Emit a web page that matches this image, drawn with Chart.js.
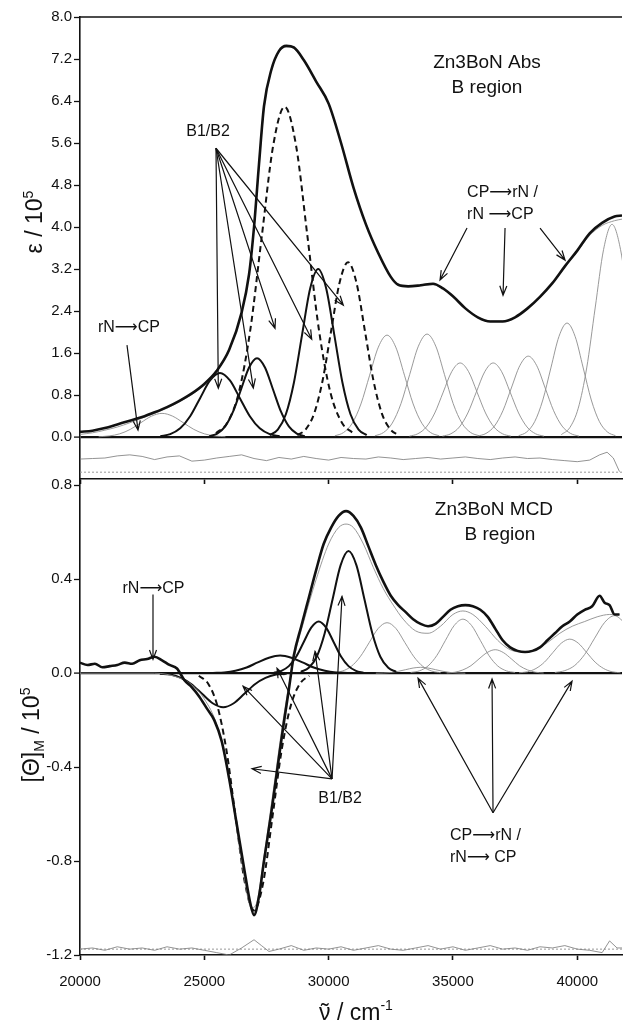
<!DOCTYPE html>
<html>
<head>
<meta charset="utf-8">
<script src="https://cdn.jsdelivr.net/npm/chart.js@4.4.1/dist/chart.umd.min.js"></script>
<style>
html,body{margin:0;padding:0;background:#fff;}
#wrap{position:relative;width:626px;height:1026px;}
canvas{position:absolute;left:0;}
#absChart{top:0;}
#mcdChart{top:470px;}
</style>
</head>
<body>
<div id="wrap">
<canvas id="absChart" width="626" height="490"></canvas>
<canvas id="mcdChart" width="626" height="556"></canvas>
</div>
<script>
// axis ticks
const xTicks = [20000, 25000, 30000, 35000, 40000]
const absTicks = [0, 0.8, 1.6, 2.4, 3.2, 4.0, 4.8, 5.6, 6.4, 7.2, 8.0]
const mcdTicks = [-1.2, -0.8, -0.4, 0, 0.4, 0.8]

// ---- absorption (eps / 1e5) ----
const absMeasured = [[20000,0.10],[20500,0.12],[21000,0.17],[21500,0.24],[22000,0.31],[22500,0.38],[23000,0.47],[23500,0.57],[24000,0.69],[24500,0.83],[25000,1.01],[25500,1.26],[26000,1.66],[26500,2.37],[26800,3.10],[27000,4.00],[27200,5.20],[27400,6.30],[27700,7.00],[28000,7.35],[28300,7.45],[28600,7.42],[29000,7.18],[29500,6.77],[30000,6.35],[30500,5.60],[31000,4.75],[31500,4.05],[32000,3.50],[32500,3.05],[32800,2.90],[33200,2.87],[33700,2.89],[34200,2.92],[34600,2.83],[35000,2.68],[35500,2.45],[36000,2.28],[36500,2.20],[37000,2.20],[37500,2.28],[38000,2.45],[38500,2.67],[39000,2.93],[39500,3.25],[40000,3.55],[40500,3.88],[41000,4.08],[41500,4.20],[41800,4.22]]
const absFit = [[20000,0.05],[20500,0.08],[21000,0.13],[21500,0.19],[22000,0.27],[22500,0.36],[23000,0.45],[23500,0.55],[24000,0.67],[24500,0.81],[25000,0.99],[25500,1.25],[26000,1.66],[26500,2.38],[26800,3.10],[27000,4.00],[27200,5.15],[27400,6.25],[27700,6.98],[28000,7.33],[28300,7.43],[28600,7.40],[29000,7.17],[29500,6.76],[30000,6.33],[30500,5.60],[31000,4.75],[31500,4.06],[32000,3.50],[32500,3.05],[32800,2.91],[33200,2.88],[33700,2.88],[34200,2.90],[34600,2.82],[35000,2.67],[35500,2.45],[36000,2.28],[36500,2.21],[37000,2.21],[37500,2.28],[38000,2.44],[38500,2.66],[39000,2.92],[39500,3.23],[40000,3.53],[40500,3.84],[41000,4.03],[41500,4.12],[41800,4.15]]

// fitted bands, abs
const absRnCp = [[20750,0.005],[21175,0.020],[21600,0.061],[22025,0.146],[22450,0.273],[22875,0.397],[23300,0.45],[23725,0.397],[24150,0.273],[24575,0.146],[25000,0.061],[25425,0.020],[25850,0.005]]
const absB1 = [[23230,0.014],[23630,0.054],[24030,0.165],[24430,0.396],[24830,0.740],[25230,1.077],[25630,1.22],[26030,1.077],[26430,0.740],[26830,0.396],[27230,0.165],[27630,0.054],[28030,0.014]]
const absB2 = [[25200,0.017],[25520,0.066],[25840,0.203],[26160,0.487],[26480,0.910],[26800,1.324],[27120,1.50],[27440,1.324],[27760,0.910],[28080,0.487],[28400,0.203],[28720,0.066],[29040,0.017]]
const absB3 = [[25470,0.070],[25930,0.276],[26390,0.851],[26850,2.042],[27310,3.815],[27770,5.551],[28230,6.29],[28690,5.551],[29150,3.815],[29610,2.042],[30070,0.851],[30530,0.276],[30990,0.070]]
const absB4 = [[27630,0.036],[27955,0.140],[28280,0.433],[28605,1.039],[28930,1.941],[29255,2.824],[29580,3.20],[29905,2.824],[30230,1.941],[30555,1.039],[30880,0.433],[31205,0.140],[31530,0.036]]
const absB5 = [[28740,0.037],[29080,0.146],[29420,0.451],[29760,1.081],[30100,2.020],[30440,2.939],[30780,3.33],[31120,2.939],[31460,2.020],[31800,1.081],[32140,0.451],[32480,0.146],[32820,0.037]]
const absCt1 = [[30250,0.022],[30600,0.085],[30950,0.262],[31300,0.630],[31650,1.177],[32000,1.712],[32350,1.94],[32700,1.712],[33050,1.177],[33400,0.630],[33750,0.262],[34100,0.085],[34450,0.022]]
const absCt2 = [[31860,0.022],[32210,0.086],[32560,0.265],[32910,0.636],[33260,1.189],[33610,1.730],[33960,1.96],[34310,1.730],[34660,1.189],[35010,0.636],[35360,0.265],[35710,0.086],[36060,0.022]]
const absCt3 = [[33250,0.016],[33590,0.062],[33930,0.191],[34270,0.458],[34610,0.855],[34950,1.244],[35290,1.41],[35630,1.244],[35970,0.855],[36310,0.458],[36650,0.191],[36990,0.062],[37330,0.016]]
const absCt4 = [[34580,0.016],[34920,0.062],[35260,0.191],[35600,0.458],[35940,0.855],[36280,1.244],[36620,1.41],[36960,1.244],[37300,0.855],[37640,0.458],[37980,0.191],[38320,0.062],[38660,0.016]]
const absCt5 = [[35990,0.017],[36330,0.068],[36670,0.208],[37010,0.500],[37350,0.934],[37690,1.359],[38030,1.54],[38370,1.359],[38710,0.934],[39050,0.500],[39390,0.208],[39730,0.068],[40070,0.017]]
const absCt6 = [[37640,0.024],[37965,0.095],[38290,0.294],[38615,0.705],[38940,1.316],[39265,1.915],[39590,2.17],[39915,1.915],[40240,1.316],[40565,0.705],[40890,0.294],[41215,0.095],[41540,0.024]]
const absCt7 = [[39360,0.045],[39700,0.178],[40040,0.548],[40380,1.315],[40720,2.456],[41060,3.574],[41400,4.05],[41740,3.574],[42080,2.456]]
const absResid = [[20000,-0.42],[20500,-0.41],[21000,-0.40],[21500,-0.36],[22000,-0.34],[22500,-0.37],[23000,-0.43],[23500,-0.38],[24000,-0.36],[24500,-0.46],[25000,-0.44],[25500,-0.40],[26000,-0.37],[26500,-0.34],[27000,-0.41],[27500,-0.45],[28000,-0.39],[28500,-0.42],[29000,-0.37],[29500,-0.41],[30000,-0.44],[30500,-0.39],[31000,-0.41],[31500,-0.42],[32000,-0.38],[32500,-0.40],[33000,-0.43],[33500,-0.41],[34000,-0.39],[34500,-0.42],[35000,-0.40],[35500,-0.38],[36000,-0.41],[36500,-0.43],[37000,-0.40],[37500,-0.38],[38000,-0.41],[38500,-0.40],[39000,-0.43],[39500,-0.45],[40000,-0.47],[40500,-0.44],[40900,-0.34],[41200,-0.29],[41450,-0.40],[41700,-0.66]]
const absResidZero = [[20000,-0.67],[41800,-0.67]]

// ---- MCD ([Theta]M / 1e5) ----
const mcdMeasured = [[20000,0.045],[20300,0.035],[20600,0.040],[20900,0.025],[21200,0.030],[21500,0.035],[21800,0.045],[22100,0.040],[22400,0.055],[22700,0.060],[23000,0.070],[23300,0.055],[23600,0.035],[23900,0.020],[24200,-0.030],[24500,-0.060],[24800,-0.100],[25100,-0.150],[25400,-0.200],[25700,-0.290],[26000,-0.450],[26300,-0.640],[26600,-0.830],[26850,-0.980],[27000,-1.030],[27200,-0.950],[27400,-0.800],[27700,-0.590],[28000,-0.360],[28200,-0.210],[28400,-0.070],[28600,0.075],[28900,0.200],[29200,0.320],[29500,0.440],[29800,0.550],[30100,0.620],[30400,0.670],[30700,0.690],[31000,0.670],[31300,0.620],[31600,0.540],[31900,0.460],[32200,0.390],[32500,0.330],[32800,0.290],[33100,0.260],[33400,0.230],[33700,0.210],[34000,0.200],[34300,0.210],[34600,0.240],[34900,0.270],[35200,0.285],[35500,0.290],[35800,0.285],[36100,0.270],[36400,0.240],[36700,0.190],[37000,0.140],[37300,0.110],[37600,0.095],[37900,0.090],[38200,0.095],[38500,0.110],[38800,0.140],[39100,0.170],[39400,0.200],[39700,0.220],[40000,0.250],[40300,0.270],[40600,0.285],[40900,0.330],[41100,0.300],[41300,0.290],[41500,0.250],[41700,0.250]]
const mcdFit = [[20000,0.000],[23000,0.000],[24000,-0.020],[24500,-0.050],[25000,-0.110],[25500,-0.220],[26000,-0.450],[26500,-0.800],[26900,-1.000],[27100,-0.980],[27400,-0.780],[27800,-0.480],[28200,-0.180],[28600,0.060],[29000,0.220],[29500,0.400],[30000,0.550],[30400,0.620],[30700,0.635],[31000,0.620],[31400,0.550],[31800,0.450],[32200,0.360],[32600,0.290],[33000,0.230],[33500,0.180],[34000,0.170],[34500,0.200],[35000,0.250],[35400,0.265],[35800,0.250],[36300,0.200],[36800,0.140],[37300,0.100],[37800,0.090],[38300,0.100],[38800,0.130],[39300,0.170],[39800,0.200],[40300,0.220],[40800,0.240],[41300,0.250],[41700,0.250]]

// fitted bands, mcd
const mcdNegBig = [[24780,-0.011],[25150,-0.044],[25520,-0.137],[25890,-0.328],[26260,-0.613],[26630,-0.891],[27000,-1.01],[27370,-0.891],[27740,-0.613],[28110,-0.328],[28480,-0.137],[28850,-0.044],[29220,-0.011]]
const mcdNegBroad = [[23210,-0.002],[23635,-0.006],[24060,-0.020],[24485,-0.047],[24910,-0.088],[25335,-0.128],[25760,-0.145],[26185,-0.128],[26610,-0.088],[27035,-0.047],[27460,-0.020],[27885,-0.006],[28310,-0.002]]
const mcdPosBroad = [[25350,0.001],[25800,0.003],[26250,0.010],[26700,0.024],[27150,0.046],[27600,0.066],[28050,0.075],[28500,0.066],[28950,0.046],[29400,0.024],[29850,0.010],[30300,0.003],[30750,0.001]]
const mcdPosMid = [[27800,0.002],[28100,0.010],[28400,0.030],[28700,0.071],[29000,0.133],[29300,0.194],[29600,0.22],[29900,0.194],[30200,0.133],[30500,0.071],[30800,0.030],[31100,0.010],[31400,0.002]]
const mcdPosBig = [[28880,0.006],[29200,0.023],[29520,0.070],[29840,0.169],[30160,0.315],[30480,0.459],[30800,0.52],[31120,0.459],[31440,0.315],[31760,0.169],[32080,0.070],[32400,0.023],[32720,0.006]]
const mcdCt1 = [[30190,0.002],[30550,0.009],[30910,0.029],[31270,0.070],[31630,0.130],[31990,0.190],[32350,0.215],[32710,0.190],[33070,0.130],[33430,0.070],[33790,0.029],[34150,0.009],[34510,0.002]]
const mcdCt2 = [[31900,0.000],[32200,0.001],[32500,0.003],[32800,0.008],[33100,0.015],[33400,0.022],[33700,0.025],[34000,0.022],[34300,0.015],[34600,0.008],[34900,0.003],[35200,0.001],[35500,0.000]]
const mcdCt3 = [[33300,0.003],[33650,0.010],[34000,0.031],[34350,0.075],[34700,0.140],[35050,0.203],[35400,0.23],[35750,0.203],[36100,0.140],[36450,0.075],[36800,0.031],[37150,0.010],[37500,0.003]]
const mcdCt4 = [[34750,0.001],[35075,0.004],[35400,0.014],[35725,0.032],[36050,0.061],[36375,0.088],[36700,0.10],[37025,0.088],[37350,0.061],[37675,0.032],[38000,0.014],[38325,0.004],[38650,0.001]]
const mcdCt5 = [[37660,0.002],[38000,0.006],[38340,0.020],[38680,0.047],[39020,0.088],[39360,0.128],[39700,0.145],[40040,0.128],[40380,0.088],[40720,0.047],[41060,0.020],[41400,0.006],[41740,0.002]]
const mcdCt6 = [[39100,0.003],[39500,0.011],[39900,0.033],[40300,0.080],[40700,0.149],[41100,0.216],[41500,0.245],[41900,0.216]]
const mcdResid = [[20000,-1.175],[20500,-1.170],[21000,-1.180],[21500,-1.165],[22000,-1.175],[22500,-1.170],[23000,-1.180],[23500,-1.165],[24000,-1.175],[24500,-1.170],[25000,-1.180],[25500,-1.190],[26000,-1.200],[26500,-1.170],[27000,-1.135],[27300,-1.160],[27600,-1.185],[28000,-1.175],[28500,-1.160],[29000,-1.180],[29500,-1.170],[30000,-1.175],[30500,-1.165],[31000,-1.180],[31500,-1.170],[32000,-1.160],[32500,-1.175],[33000,-1.180],[33500,-1.170],[34000,-1.160],[34500,-1.175],[35000,-1.165],[35500,-1.180],[36000,-1.170],[36500,-1.160],[37000,-1.175],[37500,-1.170],[38000,-1.180],[38500,-1.165],[39000,-1.170],[39500,-1.160],[40000,-1.175],[40500,-1.180],[41000,-1.190],[41300,-1.140],[41600,-1.170],[41800,-1.170]]
const mcdResidZero = [[20000,-1.175],[41800,-1.175]]

// annotations (anchored in data units)
const absNotes = [
  {text: 'Zn3BoN Abs', v: 36370, val: 7.12, size: 19},
  {text: 'B region', v: 36370, val: 6.65, size: 19},
  {text: 'B1/B2', v: 25150, val: 5.81, size: 16},
  {text: 'rN\u27F6CP', v: 21970, val: 2.08, size: 16},
  {text: 'CP\u27F6rN /', v: 35570, val: 4.65, size: 16, align: 'left'},
  {text: 'rN \u27F6CP', v: 35570, val: 4.23, size: 16, align: 'left'}
]
const absArrows = [
  [25470,5.50,25563,0.93],[25470,5.50,26971,0.93],[25470,5.50,27844,2.07],[25470,5.50,29320,1.86],[25470,5.50,30591,2.51],
  [21890,1.75,22333,0.13],
  [35567,3.98,34481,2.99],[37096,3.98,37015,2.70],[38504,3.98,39509,3.37]
]
const mcdNotes = [
  {text: 'Zn3BoN MCD', v: 36650, val: 0.695, size: 19},
  {text: 'B region', v: 36890, val: 0.589, size: 19},
  {text: 'rN\u27F6CP', v: 22957, val: 0.36, size: 16},
  {text: 'B1/B2', v: 30459, val: -0.534, size: 16},
  {text: 'CP\u27F6rN /', v: 34883, val: -0.691, size: 16, align: 'left'},
  {text: 'rN\u27F6 CP', v: 34883, val: -0.785, size: 16, align: 'left'}
]
const mcdArrows = [
  [22936,0.335,22936,0.059],
  [30137,-0.45,26919,-0.407],[30137,-0.45,26557,-0.055],[30137,-0.45,27924,0.021],[30137,-0.45,29453,0.093],[30137,-0.45,30539,0.327],
  [36613,-0.594,33596,-0.021],[36613,-0.594,36573,-0.025],[36613,-0.594,39791,-0.034]
]

const FONT = '"Liberation Sans", Arial, "DejaVu Sans", sans-serif'
const INK = '#111'
const GREY = '#8d8d8d'

function curve(data, o) {
  return Object.assign({data, borderColor: INK, borderWidth: 2, pointRadius: 0, fill: false, cubicInterpolationMode: 'monotone'}, o)
}
const thin = {borderColor: GREY, borderWidth: 0.9}
const dashed = {borderDash: [6, 4]}
const resid = {borderColor: '#777', borderWidth: 0.8, cubicInterpolationMode: 'default', tension: 0}
const dotted = {borderColor: '#999', borderWidth: 1, borderDash: [2, 2], cubicInterpolationMode: 'default', tension: 0}

function xScale(labels) {
  return {
    type: 'linear', min: 20000, max: 41800,
    afterBuildTicks: s => { s.ticks = xTicks.map(v => ({value: v})) },
    afterFit: s => { s.height = labels ? 71 : 11 },
    border: {color: INK, width: 1.6},
    grid: {drawOnChartArea: false, drawTicks: true, tickLength: 5, tickColor: INK, tickWidth: 1.6},
    ticks: {display: labels, autoSkip: false, maxRotation: 0, padding: 13, color: INK,
      font: {family: FONT, size: 15}, callback: v => String(v)}
  }
}
function yScale(min, max, ticks) {
  return {
    type: 'linear', min, max,
    afterBuildTicks: s => { s.ticks = ticks.map(v => ({value: v})) },
    afterFit: s => { s.width = 80 },
    border: {color: INK, width: 1.6},
    grid: {
      color: c => (c.tick && c.tick.value === 0) ? INK : 'rgba(0,0,0,0)',
      lineWidth: c => (c.tick && c.tick.value === 0) ? 2.2 : 1,
      drawTicks: true, tickLength: 6, tickColor: INK, tickWidth: 1.3
    },
    ticks: {padding: 2, color: INK, font: {family: FONT, size: 15}, callback: v => Number(v).toFixed(1)}
  }
}

function arrow(ctx, x1, y1, x2, y2) {
  const a = Math.atan2(y2 - y1, x2 - x1), L = 10, s = 0.36
  ctx.beginPath()
  ctx.moveTo(x1, y1); ctx.lineTo(x2, y2)
  ctx.moveTo(x2 - L * Math.cos(a - s), y2 - L * Math.sin(a - s))
  ctx.lineTo(x2, y2)
  ctx.lineTo(x2 - L * Math.cos(a + s), y2 - L * Math.sin(a + s))
  ctx.stroke()
}

// text with super/subscripts: parts = [text, size, rise, tilde?]
function richText(ctx, parts, cx, cy, rot) {
  ctx.save()
  ctx.translate(cx, cy)
  ctx.rotate(rot)
  ctx.textAlign = 'left'
  ctx.textBaseline = 'alphabetic'
  let total = 0
  const widths = parts.map(p => { ctx.font = p[1] + 'px ' + FONT; const w = ctx.measureText(p[0]).width; total += w; return w })
  let x = -total / 2
  parts.forEach((p, i) => {
    ctx.font = p[1] + 'px ' + FONT
    ctx.fillText(p[0], x, 8 - p[2])
    if (p[3]) {
      ctx.textAlign = 'center'
      ctx.fillText('\u02DC', x + widths[i] / 2, 8 - p[2])
      ctx.textAlign = 'left'
    }
    x += widths[i]
  })
  ctx.restore()
}

function annotate(notes, arrows, titles, frameTop) {
  return {
    id: 'annotate',
    afterDatasetsDraw(chart) {
      const {ctx, chartArea} = chart
      const x = chart.scales.x, y = chart.scales.y
      ctx.save()
      ctx.fillStyle = INK
      ctx.strokeStyle = INK
      ctx.lineWidth = 1.2
      ctx.textBaseline = 'middle'
      notes.forEach(n => {
        ctx.font = n.size + 'px ' + FONT
        ctx.textAlign = n.align || 'center'
        ctx.fillText(n.text, x.getPixelForValue(n.v), y.getPixelForValue(n.val))
      })
      arrows.forEach(a => arrow(ctx, x.getPixelForValue(a[0]), y.getPixelForValue(a[1]),
        x.getPixelForValue(a[2]), y.getPixelForValue(a[3])))
      if (frameTop) {
        ctx.lineWidth = 1.6
        ctx.beginPath()
        ctx.moveTo(chartArea.left, chartArea.top)
        ctx.lineTo(chartArea.right, chartArea.top)
        ctx.stroke()
      }
      titles.forEach(t => richText(ctx, t.parts, t.x, t.y, t.rot))
      ctx.restore()
    }
  }
}

new Chart(document.getElementById('absChart'), {
  type: 'line',
  data: {datasets: [
    curve(absMeasured, {borderWidth: 2.6}),
    curve(absFit, thin),
    curve(absB1), curve(absB2), curve(absB4),
    curve(absB3, dashed), curve(absB5, dashed),
    curve(absRnCp, thin), curve(absCt1, thin), curve(absCt2, thin), curve(absCt3, thin),
    curve(absCt4, thin), curve(absCt5, thin), curve(absCt6, thin), curve(absCt7, thin),
    curve(absResid, resid), curve(absResidZero, dotted)
  ]},
  options: {
    responsive: false, animation: false, events: [],
    layout: {padding: {top: 17, right: 4, left: 0, bottom: 0}},
    plugins: {legend: {display: false}, tooltip: {enabled: false}},
    scales: {x: xScale(false), y: yScale(-0.8, 8.0, absTicks)}
  },
  plugins: [annotate(absNotes, absArrows,
    [{parts: [['\u03b5 / 10', 23, 0], ['5', 14, 9]], x: 34, y: 222, rot: -Math.PI / 2}], true)]
})

new Chart(document.getElementById('mcdChart'), {
  type: 'line',
  data: {datasets: [
    curve(mcdMeasured, {borderWidth: 2.6}),
    curve(mcdFit, thin),
    curve(mcdNegBig, dashed), curve(mcdNegBroad), curve(mcdPosBroad), curve(mcdPosMid), curve(mcdPosBig),
    curve(mcdCt1, thin), curve(mcdCt2, thin), curve(mcdCt3, thin), curve(mcdCt4, thin),
    curve(mcdCt5, thin), curve(mcdCt6, thin),
    curve(mcdResid, resid), curve(mcdResidZero, dotted)
  ]},
  options: {
    responsive: false, animation: false, events: [],
    layout: {padding: {top: 9, right: 4, left: 0, bottom: 0}},
    plugins: {legend: {display: false}, tooltip: {enabled: false}},
    scales: {x: xScale(true), y: yScale(-1.2, 0.8184, mcdTicks)}
  },
  plugins: [annotate(mcdNotes, mcdArrows, [
    {parts: [['[\u0398]', 23, 0], ['M', 14, -5], [' / 10', 23, 0], ['5', 14, 9]], x: 31, y: 265, rot: -Math.PI / 2},
    {parts: [['\u03bd', 23, 0, true], [' / cm', 23, 0], ['-1', 14, 10]], x: 356, y: 542, rot: 0}
  ], false)]
})
</script>
</body>
</html>
